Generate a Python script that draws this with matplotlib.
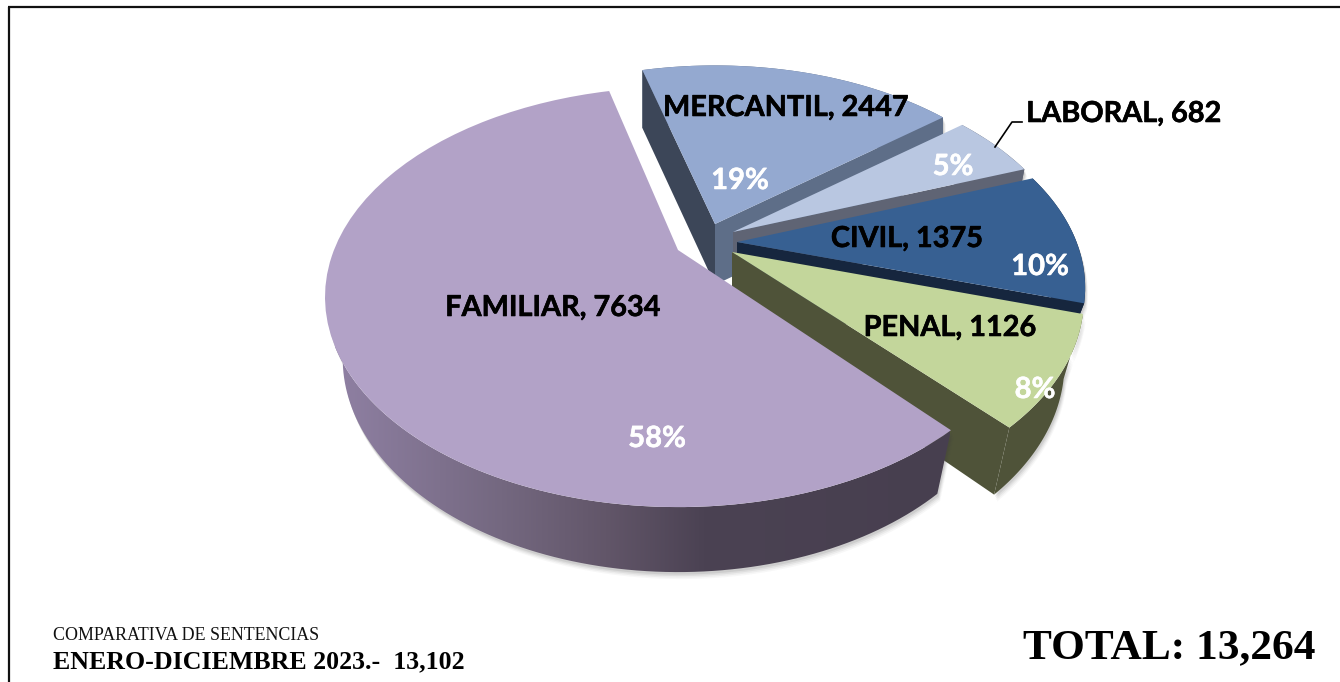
import numpy as np
import matplotlib
matplotlib.use("Agg")
import matplotlib.pyplot as plt
import matplotlib.patheffects as pe
from matplotlib.transforms import Transform
from matplotlib.patches import Polygon
from matplotlib.colors import LinearSegmentedColormap

# ---- data ----
categories = ["MERCANTIL", "LABORAL", "CIVIL", "PENAL", "FAMILIAR"]
values = [2447, 682, 1375, 1126, 7634]
percent_labels = ["19%", "5%", "10%", "8%", "58%"]
caption_line1 = "COMPARATIVA DE SENTENCIAS"
caption_line2 = "ENERO-DICIEMBRE 2023.-  13,102"
total_label = "TOTAL: 13,264"

# ---- style ----
top_colors = ["#94a9d0", "#b9c7e1", "#376092", "#c3d69b", "#b2a2c7"]
side_colors = ["#5e6e88", "#5f6474", "#16263e", "#4f5339", "#483f50"]
start_side_colors = ["#3c4658", None, None, None, None]
origins = [(715, 224), (733, 232), (737, 242), (732, 252), (678, 250)]
radii = [0.967, 0.972, 0.987, 0.997, 1.0]
nudges = [0.0, 0.0, 0.0, 0.0, -1.2]
shrink = [1.0, 0.96, 0.93, 0.945, 0.95]
extra_depth = [0, 0, 0, 2.5, -1]
label_pos = [(786, 108), (1124, 114), (907, 239), (950, 328), (553, 308)]
pct_pos = [(740, 181), (953, 167), (1040, 267), (1035, 390), (657, 439)]
K, A, B = 0.224, 344.0, 199.5


class Proj(Transform):
    input_dims = 2
    output_dims = 2
    is_separable = False
    has_inverse = False

    def __init__(self, origin, radius, nudge, shrink_x, extra):
        super().__init__()
        self.ox, self.oy = origin
        self.r = radius
        self.a = np.deg2rad(nudge)
        self.shrink_x = shrink_x
        self.extra = extra

    def transform_non_affine(self, v):
        v = np.asarray(v, dtype=float)
        c, s = np.cos(self.a), np.sin(self.a)
        X = self.r * (c * v[:, 0] - s * v[:, 1])
        Y = self.r * (s * v[:, 0] + c * v[:, 1])
        w = 1 + K * Y
        return np.column_stack([self.ox + A * X / w, self.oy - B * Y / w])

    def lower(self, pts):
        pts = np.asarray(pts)
        depth = 58 + (pts[:, 1] - 70) / 437 * 8 + self.extra
        return np.column_stack([self.ox + (pts[:, 0] - self.ox) * self.shrink_x,
                                pts[:, 1] + depth])


fig = plt.figure(figsize=(13.4, 6.82), dpi=100)
ax = fig.add_axes([0, 0, 1, 1])
wedges, _ = ax.pie(values, startangle=105.3, counterclock=False,
                   colors=top_colors, wedgeprops=dict(linewidth=0))


def unit(t):
    t = np.deg2rad(t)
    return np.column_stack([np.cos(t), np.sin(t)])


grad_cmap = LinearSegmentedColormap.from_list(
    "side", [(0, "#8f80a3"), (0.27, "#746880"), (0.44, "#625669"),
             (0.6, "#4b4253"), (1, "#473f4f")])

for i, w in enumerate(wedges):
    P = Proj(origins[i], radii[i], nudges[i], shrink[i], extra_depth[i])
    base = 10 + 10 * i
    ts = np.linspace(w.theta1, w.theta2, 160)
    arc = P.transform_non_affine(unit(ts))
    arc_low = P.lower(arc)
    apex = P.transform_non_affine(np.array([[0.0, 0.0]]))
    apex_low = P.lower(apex)

    outer = np.vstack([arc, arc_low[::-1]])
    # soft shadow under the slice
    for d, al in zip([7, 5.5, 4, 2.5], [0.04, 0.06, 0.08, 0.10]):
        ax.add_patch(Polygon(outer + [d * 0.4, d], closed=True, fc="#404040",
                             ec="none", alpha=al, zorder=base))

    if i == 4:
        grad = np.linspace(0, 1, 256)[None, :]
        im = ax.imshow(grad, cmap=grad_cmap, extent=(335, 950, 600, 250),
                       aspect="auto", zorder=base + 1, interpolation="bilinear")
        im.set_clip_path(Polygon(outer, closed=True, transform=ax.transData))
    else:
        ax.add_patch(Polygon(outer, closed=True, fc=side_colors[i], ec="none", zorder=base + 1))

    # radial faces: theta1 is the clockwise end edge, theta2 the clockwise start edge
    end_face = np.vstack([apex, arc[0], arc_low[0], apex_low])
    start_face = np.vstack([apex, arc[-1], arc_low[-1], apex_low])
    if i < 4:
        ax.add_patch(Polygon(end_face, closed=True, fc=side_colors[i], ec="none", zorder=base + 2))
    if start_side_colors[i]:
        ax.add_patch(Polygon(start_face, closed=True, fc=start_side_colors[i], ec="none", zorder=base + 3))

    w.set_transform(P + ax.transData)
    w.set_clip_on(False)
    w.set_zorder(base + 4)

heavy_k = [pe.withStroke(linewidth=0.4, foreground="black")]
heavy_w = [pe.withStroke(linewidth=0.4, foreground="white")]
for i, cat in enumerate(categories):
    x, y = label_pos[i]
    ax.text(x, y, f"{cat}, {values[i]}", family="Lato", weight="bold", fontsize=20.8,
            color="black", ha="center", va="center", zorder=100, path_effects=heavy_k)
    x, y = pct_pos[i]
    ax.text(x, y, percent_labels[i], family="Lato", weight="bold", fontsize=21,
            color="white", ha="center", va="center", zorder=100, path_effects=heavy_w)

# leader line for LABORAL
ax.plot([995, 1012, 1022], [147, 122, 122], color="black", lw=1.2, zorder=100)

# frame: left and top edges only
ax.plot([9, 9], [682, 7], color="#111111", lw=1.6, zorder=100, solid_capstyle="butt")
ax.plot([8, 1340], [7, 7], color="#111111", lw=1.6, zorder=100, solid_capstyle="butt")

ax.text(53, 640, caption_line1, family="Liberation Serif", fontsize=12.9, ha="left", va="baseline", color="#111111")
ax.text(53, 668, caption_line2, family="Liberation Serif", weight="bold", fontsize=18.6, ha="left", va="baseline", color="black")
ax.text(1023, 658, total_label, family="Liberation Serif", weight="bold", fontsize=31.2, ha="left", va="baseline", color="black")

ax.set_aspect("auto")
ax.set_xlim(0, 1340)
ax.set_ylim(682, 0)
ax.axis("off")
fig.savefig("out.png", dpi=100, facecolor="white")
